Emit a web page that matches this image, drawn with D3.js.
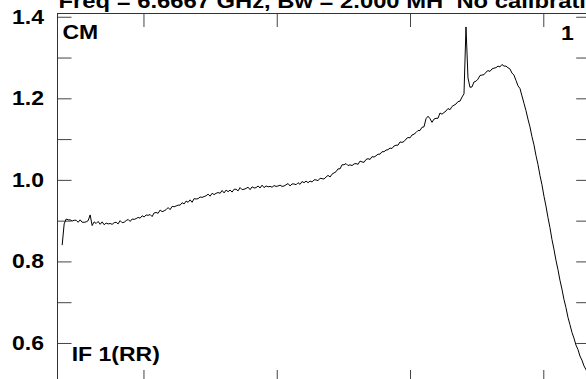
<!DOCTYPE html>
<html><head><meta charset="utf-8">
<script src="https://cdn.jsdelivr.net/npm/d3@7"></script>
<style>
html,body{margin:0;padding:0;background:#fff;}
svg{display:block;}
text{font-family:"Liberation Sans",Arial,Helvetica,sans-serif;font-weight:bold;fill:#000;}
</style>
</head><body>
<svg id="chart" width="586" height="379"></svg>
<script>
// ---- data ----
const titleText = "Freq = 6.6667 GHz, Bw = 2.000 MH  No calibration";
const cornerTopLeft = "CM";
const cornerTopRight = "1";
const cornerBottomLeft = "IF 1(RR)";
const channelStart = -61;
const channelStep = 1.5;
const xTicks = [0, 100, 200, 300];
const yTicks = [0.6, 0.7, 0.8, 0.9, 1.0, 1.1, 1.2, 1.3, 1.4];
const yLabelValues = [0.6, 0.8, 1.0, 1.2, 1.4];
const yLabelTexts = ["0.6", "0.8", "1.0", "1.2", "1.4"];
const amplitude = [
0.840,0.892,0.904,0.902,0.902,0.899,0.901,0.901,0.896,0.902,
0.896,0.896,0.897,0.900,0.914,0.888,0.897,0.893,0.898,0.891,
0.897,0.890,0.894,0.892,0.893,0.891,0.895,0.896,0.892,0.900,
0.895,0.896,0.900,0.903,0.898,0.904,0.903,0.905,0.908,0.906,
0.912,0.909,0.914,0.913,0.915,0.910,0.919,0.920,0.918,0.926,
0.922,0.924,0.927,0.932,0.927,0.935,0.934,0.936,0.938,0.938,
0.944,0.941,0.948,0.945,0.951,0.945,0.954,0.953,0.954,0.958,
0.957,0.959,0.961,0.965,0.960,0.967,0.964,0.967,0.969,0.967,
0.974,0.968,0.975,0.971,0.975,0.970,0.977,0.977,0.973,0.981,
0.976,0.977,0.979,0.982,0.976,0.983,0.980,0.981,0.985,0.980,
0.987,0.981,0.985,0.983,0.984,0.982,0.986,0.984,0.985,0.987,
0.984,0.985,0.988,0.991,0.985,0.990,0.990,0.988,0.993,0.989,
0.996,0.993,0.997,0.993,0.997,0.995,1.000,1.000,0.998,1.004,
1.003,1.002,1.007,1.011,1.007,1.014,1.017,1.020,1.027,1.027,
1.037,1.037,1.040,1.035,1.037,1.035,1.039,1.040,1.038,1.046,
1.044,1.043,1.050,1.052,1.050,1.057,1.056,1.059,1.063,1.063,
1.069,1.069,1.073,1.074,1.078,1.077,1.083,1.085,1.085,1.093,
1.092,1.094,1.100,1.104,1.103,1.110,1.112,1.116,1.121,1.121,
1.129,1.130,1.150,1.156,1.150,1.141,1.149,1.151,1.151,1.164,
1.161,1.165,1.169,1.175,1.172,1.180,1.183,1.186,1.192,1.193,
1.203,1.211,1.375,1.250,1.227,1.228,1.240,1.242,1.247,1.256,
1.257,1.258,1.264,1.268,1.266,1.272,1.274,1.275,1.279,1.277,
1.283,1.279,1.279,1.275,1.272,1.262,1.257,1.244,1.231,1.224,
1.206,1.188,1.170,1.149,1.130,1.106,1.086,1.060,1.038,1.011,
0.988,0.960,0.936,0.908,0.883,0.854,0.830,0.803,0.780,0.754,
0.732,0.707,0.687,0.663,0.645,0.626,0.612,0.595,0.584,0.568,
0.558,0.544,0.535,0.523
];

// ---- layout ----
const svg = d3.select("#chart");
const pLeft = 57.5, pRight = 590.2, pTop = 13.5, pBottom = 383.75;
const x = d3.scaleLinear().domain([-64.5, 335.2]).range([pLeft, pRight]);
const y = d3.scaleLinear().domain([0.5, 1.408]).range([pBottom, pTop]);
const SX = 1.18;

svg.append("rect").attr("width", 586).attr("height", 379).attr("fill", "#fff");

svg.append("clipPath").attr("id", "clip").append("rect")
  .attr("x", pLeft).attr("y", pTop).attr("width", pRight - pLeft).attr("height", pBottom - pTop);

function styleAxis(g) {
  g.select(".domain").remove();
  g.selectAll(".tick line").attr("stroke", "#444").attr("stroke-width", 1);
  g.selectAll(".tick text").remove();
}
svg.append("g").attr("transform", `translate(${pLeft},0)`)
  .call(d3.axisLeft(y).tickValues(yTicks).tickSize(-14).tickFormat("")).call(styleAxis);
svg.append("g").attr("transform", `translate(${pRight},0)`)
  .call(d3.axisRight(y).tickValues(yTicks).tickSize(-14).tickFormat("")).call(styleAxis);
svg.append("g").attr("transform", `translate(0,${pTop})`)
  .call(d3.axisTop(x).tickValues(xTicks).tickSize(-13.5).tickFormat("")).call(styleAxis);
svg.append("g").attr("transform", `translate(0,${pBottom})`)
  .call(d3.axisBottom(x).tickValues(xTicks).tickSize(-13.75).tickFormat("")).call(styleAxis);

svg.append("rect").attr("x", pLeft).attr("y", pTop)
  .attr("width", pRight - pLeft).attr("height", pBottom - pTop)
  .attr("fill", "none").attr("stroke", "#333").attr("stroke-width", 1);

const line = d3.line()
  .x((d, i) => x(channelStart + i * channelStep))
  .y(d => y(d));
svg.append("path").datum(amplitude)
  .attr("clip-path", "url(#clip)")
  .attr("d", line)
  .attr("fill", "none").attr("stroke", "#000").attr("stroke-width", 1)
  .attr("stroke-linejoin", "round");

svg.selectAll("text.ylab").data(yLabelValues).enter().append("text")
  .attr("class", "ylab")
  .attr("transform", d => `translate(44,${y(d) + 7}) scale(${SX},1)`)
  .attr("text-anchor", "end")
  .style("font-size", "19.5px")
  .text((d, i) => yLabelTexts[i]);

function label(txt, tx, ty, anchor) {
  svg.append("text")
    .attr("transform", `translate(${tx},${ty}) scale(${SX},1)`)
    .attr("text-anchor", anchor || "start")
    .style("font-size", "19.5px")
    .text(txt);
}
label(cornerTopLeft, 62.5, 39);
label(cornerTopRight, 561, 40);
label(cornerBottomLeft, 71.7, 361);

svg.append("text")
  .attr("transform", `translate(58.5,8) scale(1.19,1)`)
  .style("white-space", "pre")
  .style("font-size", "20px")
  .text(titleText);
</script>
</body></html>
